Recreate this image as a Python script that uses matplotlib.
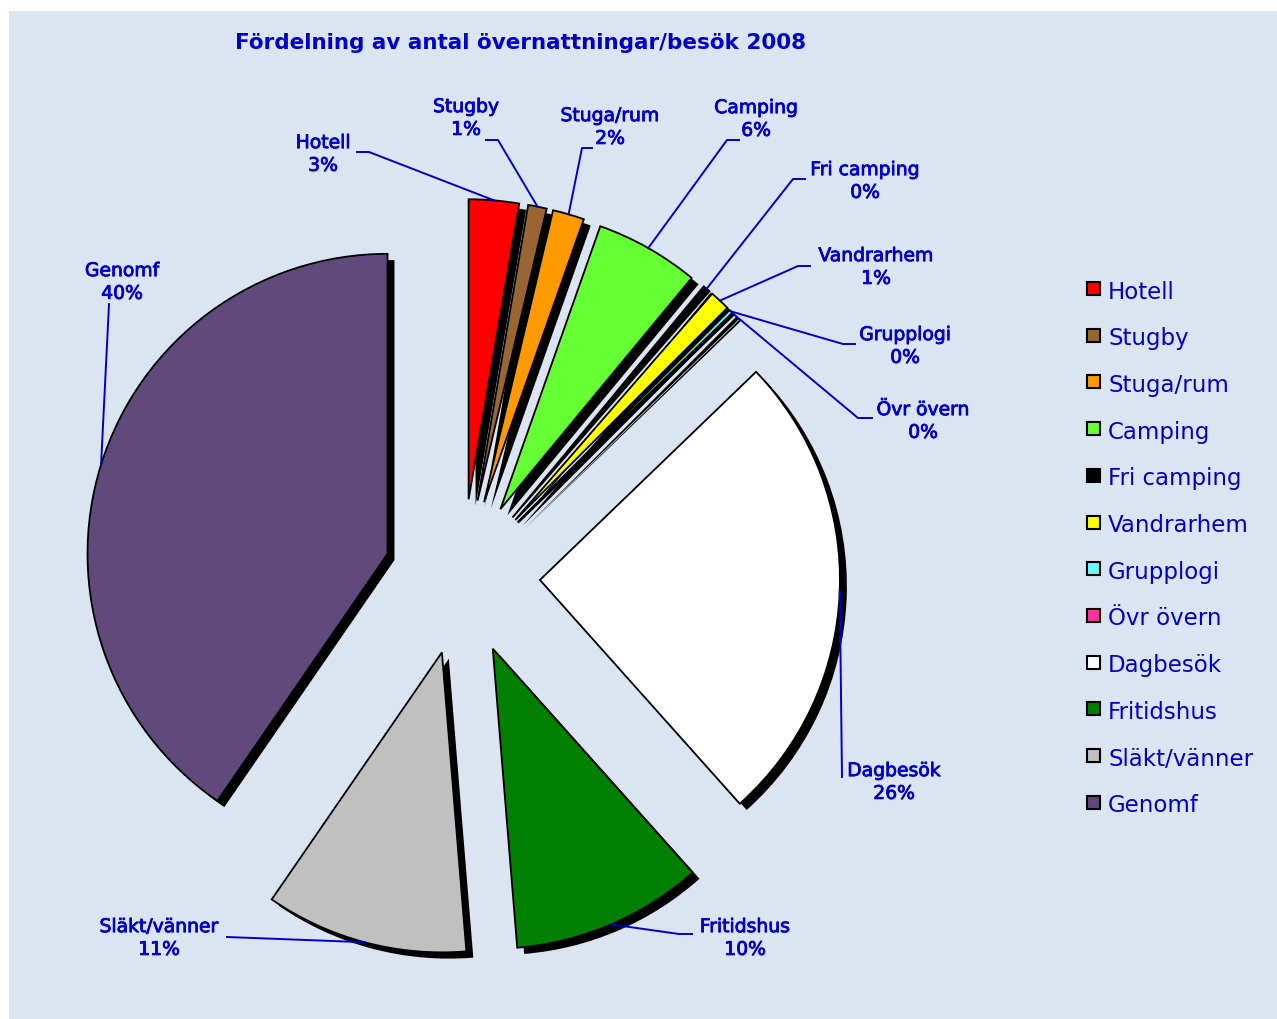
import math
import matplotlib
matplotlib.use("Agg")
import matplotlib.pyplot as plt
import matplotlib.patheffects as pe
from matplotlib.patches import Rectangle

# Data (share of nights/visits, %)
categories = ["Hotell", "Stugby", "Stuga/rum", "Camping", "Fri camping", "Vandrarhem",
              "Grupplogi", "Övr övern", "Dagbesök", "Fritidshus", "Släkt/vänner", "Genomf"]
shares = [2.7, 1.0, 1.7, 5.6, 0.4, 1.1, 0.2, 0.1, 25.6, 10.3, 10.9, 40.4]
colors = ["#ff0000", "#996633", "#ff9900", "#66ff33", "#000000", "#ffff00",
          "#66ffff", "#ff3399", "#ffffff", "#008000", "#c0c0c0", "#604a7b"]
title = "Fördelning av antal övernattningar/besök 2008"

# label layout in image pixels (y down): text centre, leader end, elbow length
label_xy = [(323, 156), (466, 120), (610, 129), (756, 121), (865, 183), (876, 269),
            (905, 348), (923, 423), (894, 784), (745, 940), (159, 940), (122, 284)]
line_end = [(357, 152), (486, 140), (592, 148), (739, 140), (805, 179), (810, 266),
            (855, 344), (872, 418), (842, 777), (692, 934), (227, 937), (109, 304)]
elbow = [12, 12, -10, -12, -12, -12, -12, -14, 0, -13, 0, 0]

W, H = 1277, 1019
BLUE = "#0000cc"

fig = plt.figure(figsize=(W / 100, H / 100), dpi=100)
fig.patch.set_facecolor("white")
ax = fig.add_axes([0, 0, 1, 1])
ax.add_patch(Rectangle((9, 0), W - 9, H - 11, facecolor="#dbe5f1", edgecolor="none", zorder=0))

shadow = [pe.withSimplePatchShadow(offset=(5, -4.5), shadow_rgbFace="black", alpha=1.0)]
wedges, _ = ax.pie(shares, colors=colors, explode=[78] * len(shares), radius=300,
                   center=(462, H - 577), startangle=90, counterclock=False,
                   wedgeprops=dict(edgecolor="black", linewidth=1.3, path_effects=shadow))
ax.set_xlim(0, W)
ax.set_ylim(0, H)
ax.axis("off")

heavy = [pe.withStroke(linewidth=0.6, foreground=BLUE)]
total = sum(shares)
for w, cat, v, (tx, ty), (ex, ey), k in zip(wedges, categories, shares, label_xy, line_end, elbow):
    mid = math.radians((w.theta1 + w.theta2) / 2)
    ax_, ay_ = w.center[0] + w.r * math.cos(mid), w.center[1] + w.r * math.sin(mid)
    ax.plot([ex, ex + k, ax_], [H - ey, H - ey, ay_], color=BLUE, lw=1.4, zorder=5)
    ax.text(tx, H - ty + 2, f"{cat}\n{v / total * 100:.0f}%", ha="center", va="center",
            color=BLUE, fontsize=13.5, linespacing=1.25, zorder=6, path_effects=heavy)

ax.text(521, H - 43, title, ha="center", va="center", color=BLUE, fontsize=15.5,
        fontweight="bold")

# legend
for i, (cat, c) in enumerate(zip(categories, colors)):
    yc = H - (288.5 + i * 46.7)
    ax.add_patch(Rectangle((1087, yc - 6.5), 13, 13, facecolor=c, edgecolor="black",
                           linewidth=1.5, zorder=5))
    ax.text(1108, H - (298.5 + i * 46.7), cat, ha="left", va="baseline", color=BLUE,
            fontsize=16.5, zorder=6)

fig.savefig("out.png", dpi=100)
